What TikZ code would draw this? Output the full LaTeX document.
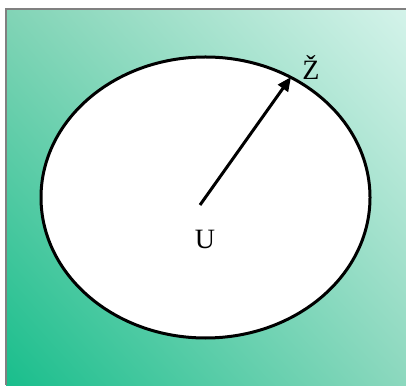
\documentclass[tikz,border=0pt]{standalone}
\usepackage{fontspec}
\setmainfont{Liberation Serif}
\usetikzlibrary{arrows.meta,shadings,shapes.geometric}
\definecolor{cLL}{RGB}{25,190,140}
\definecolor{cUR}{RGB}{212,243,234}
\definecolor{cUL}{RGB}{130,212,182}
\definecolor{cLR}{RGB}{140,216,190}
\definecolor{edgegrey}{RGB}{128,128,128}
\tikzset{lbl/.style={font=\fontsize{28}{32}\selectfont, inner sep=0pt}}
\begin{document}
\begin{tikzpicture}[x=1pt,y=1pt]
\useasboundingbox (0,0) rectangle (406,385);
\shade[lower left=cLL, upper right=cUR, upper left=cUL, lower right=cLR] (6,0) rectangle (406,376);
\draw[edgegrey, line width=1.5pt] (6,0) -- (6,376) -- (406,376);
\node[draw=black, fill=white, line width=3pt, ellipse, minimum width=329pt, minimum height=281pt, inner sep=0pt] (ell) at (205.5,187.5) {};
\coordinate (c) at (200,180);
\coordinate (tip) at (291,308);
\draw[line width=3pt, -{Triangle[length=14pt,width=12pt]}] (c) -- (tip);
\node[lbl] (u) at (205,146) {U};
\node[lbl] (z) at (311,318) {Ž};
\end{tikzpicture}
\end{document}
